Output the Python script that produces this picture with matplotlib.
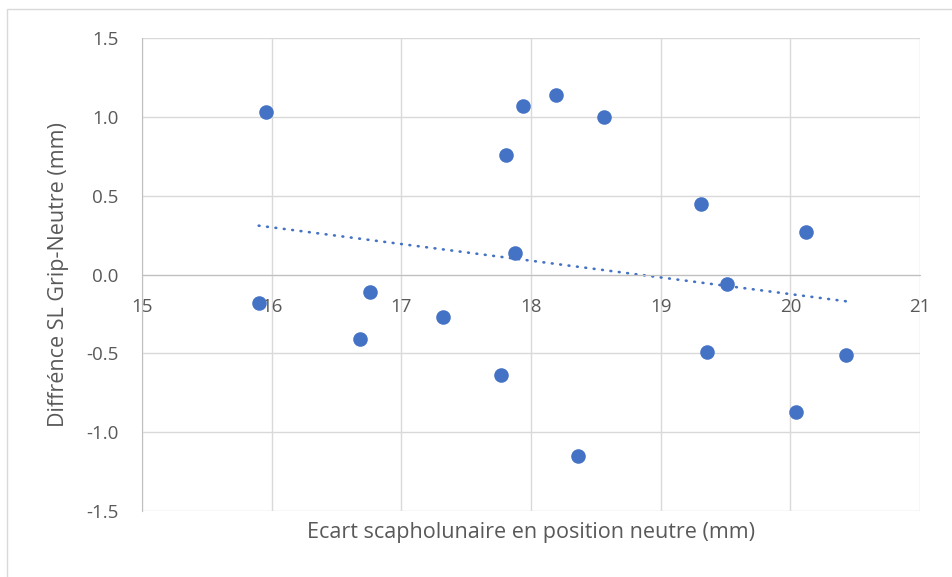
import numpy as np
import matplotlib
matplotlib.use("Agg")
import matplotlib.pyplot as plt
from matplotlib.patches import Rectangle

# ecart neutre (mm) vs difference grip-neutre (mm)
ecart_neutre = [15.96, 15.90, 16.68, 16.76, 17.32, 17.77, 17.81, 17.88, 17.94,
                18.19, 18.36, 18.56, 19.31, 19.36, 19.51, 20.04, 20.12, 20.43]
diff_grip = [1.03, -0.18, -0.41, -0.11, -0.27, -0.64, 0.755, 0.135, 1.07,
             1.14, -1.15, 1.00, 0.45, -0.49, -0.06, -0.87, 0.27, -0.51]

x_ticks = [15, 16, 17, 18, 19, 20, 21]
y_ticks = [-1.5, -1.0, -0.5, 0.0, 0.5, 1.0, 1.5]

blue = "#4472C4"
grey_txt = "#595959"
grid_col = "#D9D9D9"
axis_col = "#BFBFBF"

plt.rcParams['font.family'] = ['Open Sans', 'DejaVu Sans']

W, H = 952, 577
fig = plt.figure(figsize=(W / 100, H / 100), dpi=100)
# chart frame
fig.patches.append(Rectangle((7 / W, -0.01), 1.1, (H - 9) / H + 0.01, transform=fig.transFigure,
                             fill=False, edgecolor=grid_col, linewidth=1))

ax = fig.add_axes([142 / W, 1 - 511 / H, (920 - 142) / W, (511 - 38) / H])
ax.set_xlim(15, 21)
ax.set_ylim(-1.5, 1.5)
ax.set_xticks(x_ticks)
ax.set_yticks(y_ticks)
ax.set_yticklabels([f"{v:.1f}" for v in y_ticks])
ax.grid(True, color=grid_col, linewidth=1)
ax.set_axisbelow(True)
for s in ax.spines.values():
    s.set_visible(False)
ax.spines['left'].set_visible(True)
ax.spines['left'].set_color(axis_col)
ax.spines['bottom'].set_visible(True)
ax.spines['bottom'].set_color(axis_col)
ax.spines['bottom'].set_position(('data', 0))
ax.tick_params(length=0, labelsize=13.5, colors=grey_txt)
ax.tick_params(axis='x', pad=17)
ax.tick_params(axis='y', pad=17)

ax.scatter(ecart_neutre, diff_grip, s=110, color=blue, zorder=3, linewidths=0)

# linear trendline
coef = np.polyfit(ecart_neutre, diff_grip, 1)
xt = np.array([min(ecart_neutre), max(ecart_neutre)])
ax.plot(xt, np.polyval(coef, xt), color=blue, linewidth=1.9, linestyle=(0, (0.3, 2.9)),
        dash_capstyle='round', zorder=2)

ax.set_xlabel("Ecart scapholunaire en position neutre (mm)", fontsize=15.5, color=grey_txt)
ax.set_ylabel("Diffrénce SL Grip-Neutre (mm)", fontsize=15.5, color=grey_txt)
ax.xaxis.set_label_coords(0.5, -0.024)
ax.yaxis.set_label_coords(-(142 - 69) / (920 - 142), 0.5)

fig.savefig("out.png", dpi=100)
